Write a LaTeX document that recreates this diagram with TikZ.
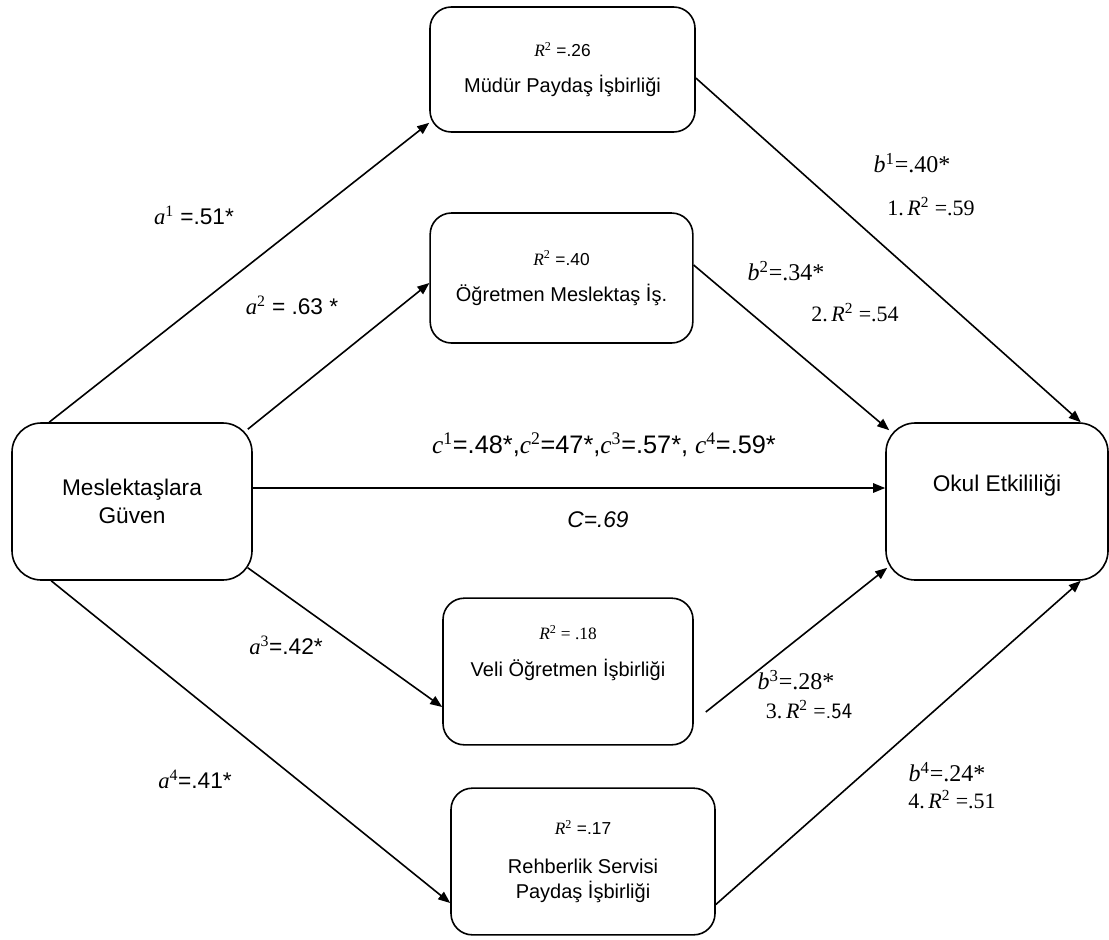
\RequirePackage{fix-cm}
\documentclass[tikz,border=0pt]{standalone}
\usepackage{fontspec}
\setmainfont{Liberation Sans}
\newfontfamily\serif{Liberation Serif}
\usetikzlibrary{arrows.meta,calc}

% font sizes used in the diagram
\newcommand\fbig{\fontsize{17}{21}\selectfont}
\newcommand\fboxtxt{\fontsize{15}{19}\selectfont}
\newcommand\frsq{\fontsize{13}{15}\selectfont}
\newcommand\flab{\fontsize{17}{20}\selectfont}
\newcommand\fcoef{\fontsize{19}{22}\selectfont}
\newcommand\fser{\fontsize{18}{21}\selectfont}
\newcommand\fstep{\fontsize{16.5}{19}\selectfont}
% italic variable with an upright superscript index
\newcommand\var[2]{{\serif\itshape #1\textsuperscript{\upshape #2}}}

\begin{document}
\begin{tikzpicture}[x=0.75pt,y=-0.75pt,
  box/.style={draw, line width=1.2pt, rounded corners=16pt, align=center, inner sep=0pt, font=\fboxtxt},
  bigbox/.style={box, rounded corners=22pt, minimum width=180pt, minimum height=117.75pt, font=\fbig},
  conn/.style={line width=1.2pt, -{Triangle[length=9pt,width=7pt]}},
  lab/.style={inner sep=0pt, font=\flab},
]
\useasboundingbox (0,0) rectangle (1109,939);

% outcome and predictor
\node[bigbox] (L) at (132,501.5) {Meslektaşlara\\Güven};
\node[bigbox, minimum width=166.5pt] (R) at (997,501.5) {};
\node[inner sep=0pt, font=\fbig] (Rt) at ($(R.center)+(0,-16)$) {Okul Etkililiği};

% mediators
\node[box, minimum width=198.75pt, minimum height=93.75pt] (A) at (562.5,69.5)
  {{\frsq\var{R}{2} =.26}\\[8pt]Müdür Paydaş İşbirliği};
\node[box, minimum width=197pt, minimum height=97.5pt] (B) at (561.5,278)
  {{\frsq\var{R}{2} =.40}\\[8pt]Öğretmen Meslektaş İş.};
\node[box, minimum width=187.5pt, minimum height=110pt] (C) at (568,671.5)
  {{\frsq\serif\var{R}{2} = .18}\\[9pt]Veli Öğretmen İşbirliği\\[12pt]};
\node[box, minimum width=198pt, minimum height=110pt] (D) at (583,861.5)
  {{\frsq\var{R}{2} =.17}\\[10pt]Rehberlik Servisi\\Paydaş İşbirliği};

% paths
\draw[conn] ($(L.north west)+(38,0)$) -- ($(A.south west)+(0,-10)$);
\draw[conn] ($(L.north east)+(-5,7)$) -- ($(B.west)+(0,5)$);
\draw[conn] ($(L.east)+(0,-13.5)$) -- ($(R.west)+(0,-13.5)$);
\draw[conn] ($(L.south east)+(-5,-13)$) -- ($(C.west)+(0,35.5)$);
\draw[conn] ($(L.south west)+(40,0)$) -- ($(D.west)+(0,41.5)$);
\draw[conn] ($(A.east)+(0,8.5)$) -- ($(R.north east)+(-28,0)$);
\draw[conn] ($(B.east)+(0,-13)$) -- ($(R.north west)+(4,8)$);
\coordinate (c3) at ($(C.east)+(12,40.5)$);
\draw[conn] (c3) -- ($(R.south west)+(2,-13)$);
\draw[conn] ($(D.east)+(0,43)$) -- ($(R.south east)+(-28,0)$);

% path coefficients
\node[lab] (la1) at (194,215) {\var{a}{1} =.51*};
\node[lab] (la2) at (292,305) {\var{a}{2} = .63 *};
\node[lab] (la3) at (286,645) {\var{a}{3}=.42*};
\node[lab] (la4) at (195,779) {\var{a}{4}=.41*};
\node[lab, font=\fser] (lb1) at (912,163) {\serif\var{b}{1}=.40*};
\node[lab, font=\fser] (lb2) at (786,271) {\serif\var{b}{2}=.34*};
\node[lab, font=\fser] (lb3) at (796,680) {\serif\var{b}{3}=.28*};
\node[lab, font=\fser] (lb4) at (947,772) {\serif\var{b}{4}=.24*};
\node[lab, font=\fstep] (lr1) at (931,207) {\serif 1.\,\var{R}{2} =.59};
\node[lab, font=\fstep] (lr2) at (855,313) {\serif 2.\,\var{R}{2} =.54};
\node[lab, font=\fstep] (lr3) at (809,710) {\serif 3.\,\var{R}{2} =\sffamily.54};
\node[lab, font=\fstep] (lr4) at (952,800) {\serif 4.\,\var{R}{2} =.51};
\node[lab, font=\fcoef] (lc) at (604,445) {\var{c}{1}=.48*,\var{c}{2}=47*,\var{c}{3}=.57*, \var{c}{4}=.59*};
\node[lab] (lC) at (598,520) {\itshape C=.69};
\end{tikzpicture}
\end{document}
